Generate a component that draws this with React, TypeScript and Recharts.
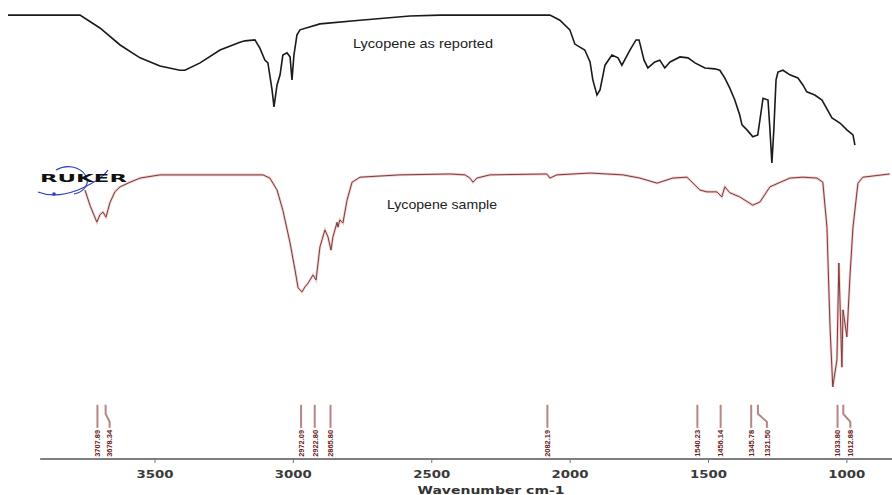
import React from 'react'
import { ComposedChart, Line, Scatter, XAxis, YAxis, ReferenceLine } from 'recharts'

// Lycopene as reported (black trace), wavenumber cm-1 / relative transmittance
const reportedWn = [
  4031, 3771, 3699, 3626, 3554, 3482, 3410, 3392, 3337, 3265, 3193, 3175, 3139, 3121, 3103, 3092,
  3077, 3070, 3059, 3048, 3038, 3023, 3012, 3005, 2998, 2987, 2976, 2904, 2759, 2579, 2470, 2073,
  2037, 2001, 1983, 1947, 1928, 1918, 1903, 1892, 1874, 1849, 1827, 1813, 1784, 1762, 1751, 1733,
  1719, 1694, 1676, 1658, 1639, 1603, 1574, 1549, 1513, 1477, 1459, 1441, 1423, 1405, 1387, 1379,
  1361, 1340, 1322, 1303, 1285, 1278, 1271, 1264, 1256, 1249, 1231, 1206, 1177, 1159, 1145, 1116,
  1090, 1054, 1025, 1000, 978, 971,
]
const reportedT = [
  96.7, 96.7, 93.9, 90.2, 87.4, 85.6, 84.7, 84.7, 86.3, 89.1, 90.8, 91.1, 91.3, 89.5, 86.9, 86.3,
  80.4, 76.7, 81.5, 83.7, 88.0, 88.5, 87.6, 82.6, 88.0, 92.4, 93.5, 94.8, 95.6, 96.5, 96.7, 96.7,
  95.6, 93.5, 90.4, 89.1, 86.5, 82.6, 79.3, 80.4, 85.8, 88.0, 87.4, 85.8, 89.1, 91.3, 91.3, 86.9,
  85.2, 86.5, 86.9, 85.2, 86.5, 87.6, 87.4, 86.3, 85.2, 85.0, 84.7, 83.0, 80.8, 78.2, 74.9, 72.8,
  71.7, 70.2, 70.6, 78.6, 78.2, 71.7, 64.5, 71.7, 82.6, 84.3, 84.7, 83.7, 83.0, 81.5, 80.0, 79.3,
  78.2, 74.3, 73.2, 71.7, 70.6, 68.4,
]

// Lycopene sample (red trace)
const sampleWn = [
  3753, 3735, 3710, 3699, 3688, 3677, 3663, 3645, 3626, 3590, 3554, 3482, 3337, 3110, 3085, 3059,
  3038, 3012, 2994, 2983, 2969, 2958, 2947, 2929, 2918, 2904, 2886, 2875, 2864, 2857, 2842, 2839,
  2832, 2821, 2806, 2788, 2759, 2615, 2434, 2380, 2362, 2351, 2337, 2290, 2084, 2073, 2048, 1928,
  1809, 1748, 1686, 1629, 1578, 1556, 1531, 1506, 1470, 1452, 1441, 1423, 1387, 1340, 1314, 1278,
  1206, 1159, 1108, 1087, 1072, 1061, 1051, 1036, 1029, 1018, 1014, 1000, 989, 978, 960, 942, 845,
]
const sampleT = [
  58.6, 55.3, 51.6, 53.2, 53.8, 52.7, 55.8, 58.2, 59.3, 60.3, 61.2, 61.9, 61.9, 61.9, 61.2, 58.6,
  54.2, 47.1, 41.2, 37.3, 36.4, 37.5, 38.3, 40.1, 39.0, 46.2, 49.9, 48.4, 45.5, 48.4, 51.6, 50.5,
  52.1, 51.4, 56.4, 60.3, 61.4, 61.9, 62.1, 61.9, 61.2, 60.3, 61.2, 61.9, 62.1, 61.2, 61.9, 62.3,
  61.9, 61.2, 60.1, 61.2, 61.4, 60.1, 58.6, 58.2, 58.2, 57.1, 59.3, 58.0, 57.1, 55.3, 56.0, 59.3,
  61.2, 61.4, 61.2, 60.3, 50.5, 28.8, 15.7, 21.6, 42.7, 20.0, 32.5, 26.6, 39.7, 50.5, 60.1, 61.4, 62.1,
]

// picked peaks
const peakWn = [3707.89, 3678.34, 2972.09, 2922.8, 2865.8, 2082.19, 1540.23, 1456.14, 1345.78, 1321.5, 1033.8, 1012.88]
const xTicks = [3500, 3000, 2500, 2000, 1500, 1000]

// label shift for the bent leader lines (px)
const bend: Record<string, number> = { '3678.34': 4, '1321.50': 9, '1012.88': 7 }

const reported = reportedWn.map((w, i) => ({ w, t: reportedT[i] }))
const sample = sampleWn.map((w, i) => ({ w, t: sampleT[i] }))
const peaks = peakWn.map((w) => ({ w, t: 11.8, label: w.toFixed(2) }))

const PeakMark = (props: any) => {
  const { cx, cy, payload } = props
  const s = bend[payload.label] || 0
  const lx = cx + s
  const d = s
    ? `M${cx},${cy} L${cx},${cy + 9} L${lx},${cy + 17} L${lx},${cy + 23}`
    : `M${cx},${cy} L${cx},${cy + 23}`
  return (
    <g>
      <path d={d} stroke="#b88484" strokeWidth={2} fill="none" />
      <text
        x={lx + 2.8}
        y={cy + 52}
        transform={`rotate(-90 ${lx + 2.8} ${cy + 52})`}
        fontFamily="Liberation Sans, Arial"
        fontSize={7.5}
        fontWeight="bold"
        fill="#6a2020"
        textLength={27}
        lengthAdjust="spacingAndGlyphs"
      >
        {payload.label}
      </text>
    </g>
  )
}

const Tick = (props: any) => {
  const { x, y, payload } = props
  return (
    <text
      x={x}
      y={y + 13}
      textAnchor="middle"
      fontFamily="DejaVu Sans"
      fontWeight="bold"
      fontSize={10}
      fill="#3a3a3a"
      textLength={37}
      lengthAdjust="spacingAndGlyphs"
    >
      {payload.value}
    </text>
  )
}

export default function App() {
  return (
    <div style={{ position: 'absolute', left: 0, top: 0, width: 892, height: 495, background: '#fff' }}>
      <ComposedChart width={892} height={495} margin={{ top: 0, right: 0, bottom: 0, left: 0 }}>
        <XAxis
          type="number"
          dataKey="w"
          domain={[837, 4060]}
          allowDataOverflow
          reversed
          ticks={xTicks}
          interval={0}
          axisLine={false}
          tickLine={{ stroke: '#777' }}
          tickSize={4}
          tickMargin={2}
          height={36}
          tick={<Tick />}
        />
        <YAxis hide type="number" domain={[0, 100]} allowDataOverflow />
        <ReferenceLine
          segment={[{ x: 3915, y: 0 }, { x: 837, y: 0 }]}
          stroke="#555"
          strokeWidth={1.5}
          ifOverflow="visible"
        />
        <Line
          data={sample}
          dataKey="t"
          type="linear"
          stroke="#f0cccc"
          strokeWidth={2.6}
          dot={false}
          activeDot={false}
          isAnimationActive={false}
        />
        <Line
          data={sample}
          dataKey="t"
          type="linear"
          stroke="#7e3a3a"
          strokeWidth={1}
          dot={false}
          activeDot={false}
          isAnimationActive={false}
        />
        <Line
          data={reported}
          dataKey="t"
          type="linear"
          stroke="#1a1a1a"
          strokeWidth={1.6}
          dot={false}
          activeDot={false}
          isAnimationActive={false}
        />
        <Scatter data={peaks} dataKey="t" shape={<PeakMark />} isAnimationActive={false} />
      </ComposedChart>

      <svg width={892} height={495} style={{ position: 'absolute', left: 0, top: 0, pointerEvents: 'none' }}>
        <text x={353} y={48} fontFamily="Liberation Sans, Arial" fontSize={13} fill="#222" textLength={140} lengthAdjust="spacingAndGlyphs">
          Lycopene as reported
        </text>
        <text x={387} y={209} fontFamily="Liberation Sans, Arial" fontSize={13} fill="#222" textLength={110} lengthAdjust="spacingAndGlyphs">
          Lycopene sample
        </text>
        <text x={491} y={494} textAnchor="middle" fontFamily="DejaVu Sans" fontWeight="bold" fontSize={10} fill="#333" textLength={147} lengthAdjust="spacingAndGlyphs">
          Wavenumber cm-1
        </text>
        {/* logo */}
        <path d="M38,192 C48,196 62,196 78,190 C92,184 104,176 108,170" stroke="#2b3fc0" strokeWidth={1.3} fill="none" />
        <path d="M56,170 C66,164 80,166 86,176 C90,184 84,192 74,194" stroke="#2b3fc0" strokeWidth={1.2} fill="none" />
        <circle cx={54} cy={194} r={1.8} fill="#2b3fc0" />
        <text x={40} y={182} fontFamily="DejaVu Sans" fontWeight="bold" fontSize={10} fill="#111" textLength={87} lengthAdjust="spacingAndGlyphs">
          RUKER
        </text>
      </svg>
    </div>
  )
}
